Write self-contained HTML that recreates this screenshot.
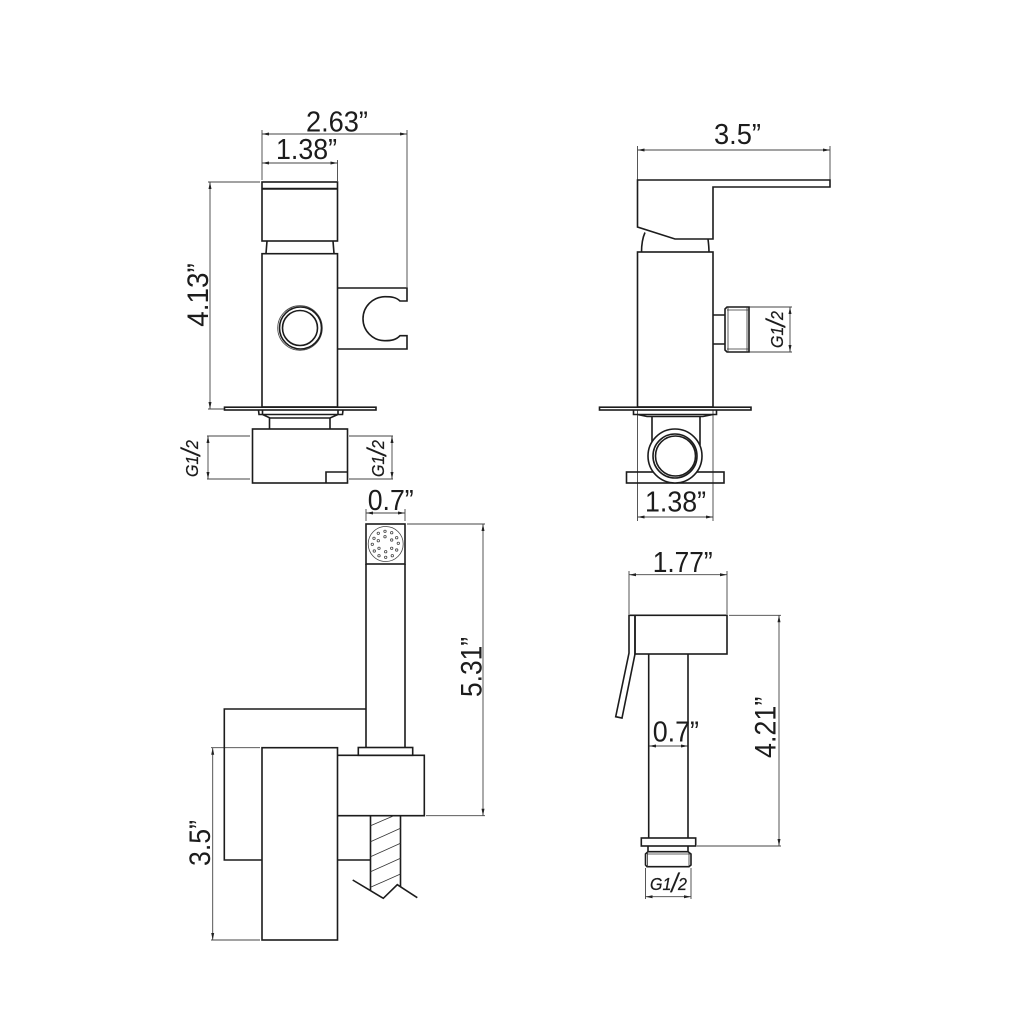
<!DOCTYPE html>
<html><head><meta charset="utf-8"><style>
html,body{margin:0;padding:0;background:#fff;width:1024px;height:1024px;overflow:hidden}
svg{display:block}
.o{fill:none;stroke:#1c1c1c;stroke-width:1.6}
.w{fill:#fff;stroke:#1c1c1c;stroke-width:1.6}
.t{fill:none;stroke:#333;stroke-width:.8}
.d{fill:none;stroke:#444;stroke-width:.9}
.a{fill:#222;stroke:none}
text{font-family:"Liberation Sans",sans-serif;fill:#1c1c1c}
.b{font-size:28.500px}
.r{font-size:30px}
.g{font-size:18px;font-style:italic;stroke:#1c1c1c;stroke-width:.25}
.s{font-size:27px}
.n{fill:none;stroke:#444;stroke-width:.8}
</style></head><body>
<svg width="1024" height="1024" viewBox="0 0 1024 1024" xmlns="http://www.w3.org/2000/svg">
<!-- TOP LEFT -->
<g class="d">
<path d="M262 130V180M407 130V287M337.500 160V181M262 134H407M262 163H337.500"/>
<path d="M210 182V409M208 182H260M208 409H224"/>
<path d="M207 436H250M207 479H250M208 436V479M349 436H393M349 479H393M392 436V479"/>
</g>
<path class="a" d="M262 134l7-1.500v3zM407 134l-7-1.500v3zM262 163l7-1.500v3zM337.500 163l-7-1.500v3zM210 182l-1.500 7h3zM210 409l-1.500-7h3zM208 436l-1.500 7h3zM208 479l-1.500-7h3zM392 436l-1.500 7h3zM392 479l-1.500-7h3z"/>
<rect class="o" x="262" y="182" width="75.500" height="59"/>
<path d="M262 188.700H337.500" stroke="#1c1c1c" stroke-width="2" fill="none"/>
<path class="o" d="M267 241L266 253.500M333 241L334 253.500"/>
<rect class="o" x="262" y="253.700" width="75.500" height="153.300"/>
<circle class="n" cx="300" cy="328" r="22.300"/>
<circle class="o" cx="300.500" cy="328" r="21"/>
<circle class="o" cx="300" cy="328" r="17.500"/>
<path class="o" d="M337.500 288H407V301H400C396 297 391 296.700 385 296.700A22 22 0 0 0 385 340.700C391 340.700 396 340 400 335.700H407V349H337.500"/>
<rect class="o" x="224.500" y="407.200" width="151.500" height="2.800"/>
<path class="o" d="M258.500 410L259 414.500H342.500L343 410M262.500 410V414.500L270 418H330L338 414.500V410"/>
<path class="o" d="M269.500 418V429M330 418V429"/>
<rect class="o" x="252.500" y="429" width="95" height="54"/>
<path class="o" d="M326 483V472H347.500"/>
<!-- TOP RIGHT -->
<g class="d">
<path d="M637.500 146V180M830 146V180M637.500 150H830"/>
<path d="M749 307H792M749 352H792M790 307V352"/>
<path d="M637.500 410V521M713 410V521M637.500 517H713"/>
</g>
<path class="a" d="M637.500 150l7-1.500v3zM830 150l-7-1.500v3zM790 307l-1.500 7h3zM790 352l-1.500-7h3zM637.500 517l7-1.500v3zM713 517l-7-1.500v3z"/>
<path class="o" d="M637.500 180H830V187H713V239H675L637.500 227Z"/>
<path class="o" d="M645 232.500C642.500 238 641.500 245 641.500 252.500M708 239C708.500 243 709 248 709 252.500"/>
<rect class="o" x="637.500" y="252" width="75.500" height="155"/>
<path class="o" d="M713 315H725M713 344H725"/>
<path class="o" d="M727 307H749V352H727L725 350V309Z"/>
<path class="t" d="M727 310H749M727 349H749M728 307V352M747 307V352"/>
<rect class="o" x="599.500" y="407.200" width="151.500" height="2.800"/>
<path class="o" d="M633.500 410V414.500H716.500V410M637.500 414.500L647 416.500H703L713 414.500"/>
<path class="o" d="M652 416.500V445M700 416.500V445"/>
<rect class="o" x="626.500" y="472" width="97.500" height="11"/>
<circle class="w" cx="675" cy="456" r="27"/>
<circle class="o" cx="675" cy="456" r="22"/>
<circle class="o" cx="675.500" cy="456" r="20"/>
<!-- BOTTOM LEFT -->
<g class="d">
<path d="M366 509V521M405 509V521M366 513H405"/>
<path d="M407 524H485M426 815.700H485M483 524V815.700"/>
<path d="M211 747.700H260M211 940H260M212.700 747.700V940"/>
</g>
<path class="a" d="M366 513l7-1.500v3zM405 513l-7-1.500v3zM483 524l-1.500 7h3zM483 815.700l-1.500-7h3zM212.700 747.700l-1.500 7h3zM212.700 940l-1.500-7h3z"/>
<rect class="o" x="366" y="524" width="39" height="40"/>
<circle class="n" cx="385.700" cy="544" r="17.500"/>
<g class="n">
<circle cx="385" cy="531.300" r="1.200"/><circle cx="378.300" cy="533.300" r="1.200"/><circle cx="391.700" cy="532.700" r="1.200"/><circle cx="374" cy="538.300" r="1.200"/><circle cx="396.700" cy="537.700" r="1.200"/><circle cx="372.300" cy="544.300" r="1.200"/><circle cx="398.300" cy="543.300" r="1.200"/><circle cx="374.300" cy="551" r="1.200"/><circle cx="396.700" cy="550" r="1.200"/><circle cx="379" cy="555.700" r="1.200"/><circle cx="392.300" cy="555.700" r="1.200"/><circle cx="385.700" cy="557.300" r="1.200"/><circle cx="385" cy="536.700" r="1.200"/><circle cx="378.300" cy="540.700" r="1.200"/><circle cx="391.700" cy="540" r="1.200"/><circle cx="379" cy="548.300" r="1.200"/><circle cx="391.700" cy="548.300" r="1.200"/><circle cx="385.700" cy="551.700" r="1.200"/>
</g>
<path class="o" d="M366 564V747.500M405 564V747.500"/>
<path class="o" d="M366 709H224.300V860H262"/>
<rect class="w" x="262" y="747.700" width="75.500" height="192.300"/>
<rect class="o" x="358.300" y="747.500" width="54.400" height="7.800"/>
<path class="o" d="M337.500 755.300H424.300V815.700H337.500"/>
<path class="o" d="M370.500 815.700V891M400.500 815.700V886.500M337.500 860H370.500"/>
<path class="o" d="M352.700 880L383.300 898.300L397.300 884.700L417.300 897.700"/>
<path class="t" d="M370.500 825.700L393.300 816M370.500 841.700L400.500 828.300M370.500 856.700L400.500 843.300M370.500 871.700L400.500 858.300M370.500 887.300L400.500 874"/>
<!-- BOTTOM RIGHT -->
<g class="d">
<path d="M629 571V614M727 571V614M629 574.700H727"/>
<path d="M649 746H688"/>
<path d="M729 615.300H781M697 846H781M779 615.300V846"/>
<path d="M645.500 868V899M691 868V899M645.500 896.700H691"/>
</g>
<path class="a" d="M629 574.700l7-1.500v3zM727 574.700l-7-1.500v3zM649 746l7-1.500v3zM688 746l-7-1.500v3zM779 615.300l-1.500 7h3zM779 846l-1.500-7h3zM645.500 896.700l7-1.500v3zM691 896.700l-7-1.500v3z"/>
<rect class="o" x="635" y="615.300" width="92" height="38.700"/>
<path class="o" d="M629 615.300H635V654L622 718L615.700 716.700L629 653Z"/>
<path class="o" d="M648.700 654V838M688 654V838"/>
<rect class="o" x="641.300" y="838" width="54.400" height="8"/>
<path class="o" d="M648 846V851.700M688 846V851.700"/>
<path class="o" d="M648 851.700H688L691 854V865L689 866.700H647L645.500 865V854Z"/>
<path class="t" d="M647 854H690M647.500 851.700V866.700M689 851.700V866.700"/>
<!-- TEXT -->
<text class="b" x="306" y="131.500" textLength="62" lengthAdjust="spacingAndGlyphs">2.63”</text>
<text class="b" x="276" y="159" textLength="61" lengthAdjust="spacingAndGlyphs">1.38”</text>
<text class="r" transform="translate(208 326.700) rotate(-90)" textLength="63.500" lengthAdjust="spacingAndGlyphs">4.13”</text>
<text class="b" x="714" y="144" textLength="47" lengthAdjust="spacingAndGlyphs">3.5”</text>
<text class="b" x="645" y="511.500" textLength="61" lengthAdjust="spacingAndGlyphs">1.38”</text>
<text class="b" x="367.700" y="510" textLength="46" lengthAdjust="spacingAndGlyphs">0.7”</text>
<text class="r" transform="translate(481.500 697) rotate(-90)" textLength="60" lengthAdjust="spacingAndGlyphs">5.31”</text>
<text class="r" transform="translate(210 866) rotate(-90)" textLength="46" lengthAdjust="spacingAndGlyphs">3.5”</text>
<text class="b" x="652.700" y="572" textLength="60" lengthAdjust="spacingAndGlyphs">1.77”</text>
<text class="b" x="652.700" y="741.500" textLength="46.300" lengthAdjust="spacingAndGlyphs">0.7”</text>
<text class="r" transform="translate(775.700 758) rotate(-90)" textLength="61.300" lengthAdjust="spacingAndGlyphs">4.21”</text>
<text class="g" transform="translate(198 477) rotate(-90) scale(.89 1)">G1<tspan class="s" dy="2">/</tspan><tspan dy="-2">2</tspan></text>
<text class="g" transform="translate(384 477) rotate(-90) scale(.89 1)">G1<tspan class="s" dy="2">/</tspan><tspan dy="-2">2</tspan></text>
<text class="g" transform="translate(783 348) rotate(-90) scale(.89 1)">G1<tspan class="s" dy="2">/</tspan><tspan dy="-2">2</tspan></text>
<text class="g" transform="translate(650 890) scale(.89 1)">G1<tspan class="s" dy="2">/</tspan><tspan dy="-2">2</tspan></text>
</svg>
</body></html>
